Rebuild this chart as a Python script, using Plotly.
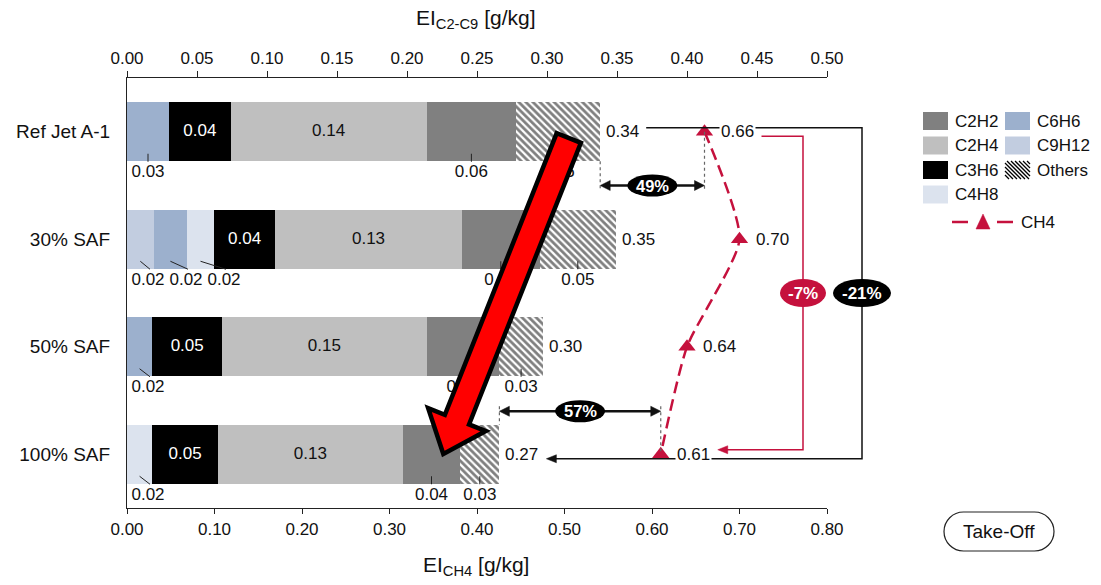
import plotly.graph_objects as go

# ---------------- data ----------------
categories = ["Ref Jet A-1", "30% SAF", "50% SAF", "100% SAF"]
C9H12 = [0.000, 0.019, 0.000, 0.000]
C6H6 = [0.030, 0.024, 0.018, 0.000]
C4H8 = [0.000, 0.019, 0.000, 0.018]
C3H6 = [0.044, 0.044, 0.050, 0.047]
C2H4 = [0.140, 0.133, 0.146, 0.132]
C2H2 = [0.064, 0.056, 0.052, 0.041]
Others = [0.060, 0.054, 0.031, 0.028]
CH4 = [0.66, 0.70, 0.64, 0.61]
gap_labels = ["49%", "57%"]          # C2-C9 vs CH4 for Ref and 100% SAF
change_labels = ["-7%", "-21%"]      # CH4 change, C2-C9 change (Ref -> 100% SAF)
top_ticks = [0.00, 0.05, 0.10, 0.15, 0.20, 0.25, 0.30, 0.35, 0.40, 0.45, 0.50]
bottom_ticks = [0.00, 0.10, 0.20, 0.30, 0.40, 0.50, 0.60, 0.70, 0.80]

# ---------------- styling ----------------
FONT = "Arial, Liberation Sans, sans-serif"
TXT = "#111111"
CRIMSON = "#c5113d"
COL = {"C9H12": "#c2cde0", "C6H6": "#9cb0cd", "C4H8": "#dce3ee", "C3H6": "#000000",
       "C2H4": "#bfbfbf", "C2H2": "#808080", "Others": "#ffffff"}
stack = [("C9H12", C9H12), ("C6H6", C6H6), ("C4H8", C4H8), ("C3H6", C3H6),
         ("C2H4", C2H4), ("C2H2", C2H2), ("Others", Others)]

W, H = 1101, 585
XL, XR, YT, YB = 127, 827, 78, 508
PW, PH = XR - XL, YB - YT
TOPMAX, BOTMAX = top_ticks[-1], bottom_ticks[-1]
ypos = list(range(len(categories)))
BARW = 0.55


def sx2(v):  # top-axis value -> pixel
    return XL + v / TOPMAX * PW


def sx1(v):  # bottom-axis value -> pixel
    return XL + v / BOTMAX * PW


def sy(c):  # category position -> pixel
    return YT + (c + 0.5) * PH / len(categories)


def d2(px):  # pixel -> top-axis value
    return (px - XL) / PW * TOPMAX


def dy(py):  # pixel -> category coordinate
    return (py - YT) / (PH / len(categories)) - 0.5


def pp(x, y):  # pixel -> paper
    return (x - XL) / PW, (YB - y) / PH


def path_str(pts, close=True):
    s = ""
    for i, (x, y) in enumerate(pts):
        px, py = pp(x, y)
        s += ("M" if i == 0 else "L") + f"{px:.5f},{py:.5f} "
    return s + ("Z" if close else "")


totals = [sum(s[1][i] for s in stack) for i in range(len(categories))]

fig = go.Figure()

# stacked bars
for name, vals in stack:
    marker = dict(color=COL[name], line=dict(width=0))
    if name == "Others":
        marker["pattern"] = dict(shape="\\", fgcolor="#000000", bgcolor="#ffffff", size=5, solidity=0.55)
    fig.add_trace(go.Bar(y=ypos, x=vals, orientation="h", xaxis="x2", yaxis="y", width=BARW,
                         marker=marker, name=name, showlegend=False, hoverinfo="skip"))

# labels
in_x, in_y, in_t, in_c = [], [], [], []
out_x, out_y, out_t = [], [], []
lead_x, lead_y = [], []
for i in range(len(categories)):
    left = 0.0
    seg = {}
    for name, vals in stack:
        seg[name] = (left, vals[i])
        left += vals[i]
    for name, tcol in (("C3H6", "#ffffff"), ("C2H4", TXT)):
        l, v = seg[name]
        in_x.append(l + v / 2); in_y.append(i); in_t.append(f"{v:.2f}"); in_c.append(tcol)
    # small labels below the bar
    prev = None
    for name in ("C9H12", "C6H6", "C4H8"):
        l, v = seg[name]
        if v <= 0:
            continue
        cpx = sx2(l + v / 2)
        lx = max(cpx, XL + 21) if prev is None else max(cpx, prev + 38)
        prev = lx
        out_x.append(d2(lx)); out_y.append(dy(sy(i) + 41)); out_t.append(f"{v:.2f}")
        lead_x += [l + v / 2, d2(lx + 2 if lx > cpx else lx), None]
        lead_y += [dy(sy(i) + 22), dy(sy(i) + 30), None]
    for name in ("C2H2", "Others"):
        l, v = seg[name]
        c = l + v / 2
        out_x.append(c); out_y.append(dy(sy(i) + 41)); out_t.append(f"{v:.2f}")
        lead_x += [c, c, None]
        lead_y += [dy(sy(i) + 22), dy(sy(i) + 30), None]

fig.add_trace(go.Scatter(x=lead_x, y=lead_y, xaxis="x2", yaxis="y", mode="lines",
                         line=dict(color="#222222", width=1), showlegend=False, hoverinfo="skip",
                         cliponaxis=False))
fig.add_trace(go.Scatter(x=in_x, y=in_y, xaxis="x2", yaxis="y", mode="text", text=in_t,
                         textfont=dict(family=FONT, size=17, color=in_c), showlegend=False,
                         hoverinfo="skip", cliponaxis=False))
fig.add_trace(go.Scatter(x=out_x, y=out_y, xaxis="x2", yaxis="y", mode="text", text=out_t,
                         textfont=dict(family=FONT, size=17, color=TXT), showlegend=False,
                         hoverinfo="skip", cliponaxis=False))

# CH4 line
fig.add_trace(go.Scatter(x=CH4, y=ypos, xaxis="x", yaxis="y", mode="lines+markers",
                         line=dict(color=CRIMSON, width=2.5, dash="12px,6px", shape="spline", smoothing=0.6),
                         marker=dict(symbol="triangle-up", size=15, color=CRIMSON, line=dict(width=0)),
                         showlegend=False, hoverinfo="skip", cliponaxis=False))

shapes = []
annotations = []


def line_shape(pts, color, width, dash="solid", close=False, fill=None):
    shapes.append(dict(type="path", xref="paper", yref="paper", path=path_str(pts, close),
                       line=dict(color=color, width=width, dash=dash),
                       fillcolor=fill if fill else "rgba(0,0,0,0)", layer="above"))


def head(x, y, direction, color, L=10, hw=4.5):
    s = 1 if direction == "left" else -1
    line_shape([(x, y), (x + s * L, y - hw), (x + s * L, y + hw)], color, 0.5, close=True, fill=color)


def text_at(xpx, ypx, text, size, color=TXT, xanchor="center"):
    px, py = pp(xpx, ypx)
    annotations.append(dict(x=px, y=py, xref="paper", yref="paper", text=text, showarrow=False,
                            xanchor=xanchor, yanchor="middle",
                            font=dict(family=FONT, size=size, color=color)))


def ellipse(cx, cy, w, h, color, text, size):
    x0, y0 = pp(cx - w / 2, cy + h / 2)
    x1, y1 = pp(cx + w / 2, cy - h / 2)
    shapes.append(dict(type="circle", xref="paper", yref="paper", x0=x0, y0=y0, x1=x1, y1=y1,
                       fillcolor=color, line=dict(width=0), layer="above"))
    text_at(cx, cy, f"<b>{text}</b>", size, "#ffffff")


# black bracket (C2-C9 change)
bx0 = sx2(totals[0]) + 46
by0 = sy(0) - 4
bxr = XR + 35
by1 = sy(3) + 4.5
btip = sx2(totals[-1]) + 47
line_shape([(bx0, by0), (bxr, by0), (bxr, by1), (btip + 8, by1)], "#111111", 1.5)
head(btip, by1, "left", "#111111", L=10, hw=4)
ellipse(bxr, sy(1.5), 58, 28, "#000000", change_labels[1], 17)

# crimson bracket (CH4 change)
cx0 = sx1(CH4[0]) + 57
cy0 = sy(0) + 4.5
cxr = XR - 24
cy1 = sy(3) - 4.5
ctip = sx1(CH4[-1]) + 57
line_shape([(cx0, cy0), (cxr, cy0), (cxr, cy1), (ctip + 8, cy1)], CRIMSON, 1.5)
head(ctip, cy1, "left", CRIMSON, L=10, hw=4)
ellipse(cxr, sy(1.5), 46, 28, CRIMSON, change_labels[0], 17)

# gap arrows
for k, (idx, yc) in enumerate(((0, 0.5), (len(categories) - 1, 2.6))):
    xa, xb = sx2(totals[idx]), sx1(CH4[idx])
    ya = sy(yc)
    line_shape([(xa + 8, ya), (xb - 8, ya)], "#111111", 2.5)
    head(xa, ya, "left", "#111111", L=10, hw=5)
    head(xb, ya, "right", "#111111", L=10, hw=5)
    bar_edge = sy(idx) + (BARW / 2) * PH / len(categories) * (1 if idx == 0 else -1)
    if idx == 0:
        line_shape([(xa, bar_edge), (xa, ya + 5)], "#666666", 1.2, dash="dot")
        line_shape([(xb, sy(idx)), (xb, ya + 5)], "#666666", 1.2, dash="dot")
    else:
        line_shape([(xa, ya - 5), (xa, bar_edge)], "#666666", 1.2, dash="dot")
        line_shape([(xb, ya - 5), (xb, sy(idx))], "#666666", 1.2, dash="dot")
    ellipse((xa + xb) / 2, ya, 50, 22, "#000000", gap_labels[k], 16.5)

# big red arrow
tail = (568.8, 138.0)
tip = (443.3, 454.0)
dxv, dyv = tip[0] - tail[0], tip[1] - tail[1]
ln = (dxv ** 2 + dyv ** 2) ** 0.5
ux, uy = dxv / ln, dyv / ln
nx, ny = -uy, ux
sw, hw_, hl = 13.0, 31.0, 37.0
bx, by = tip[0] - ux * hl, tip[1] - uy * hl
arrow_pts = [
    (tail[0] + nx * sw, tail[1] + ny * sw),
    (bx + nx * sw, by + ny * sw),
    (bx + nx * hw_, by + ny * hw_),
    tip,
    (bx - nx * hw_, by - ny * hw_),
    (bx - nx * sw, by - ny * sw),
    (tail[0] - nx * sw, tail[1] - ny * sw),
]
line_shape(arrow_pts, "#000000", 4.5, close=True, fill="#ff0000")

# value annotations (totals and CH4)
for i in range(len(categories)):
    annotations.append(dict(x=totals[i], y=i, xref="x2", yref="y", text=f"{totals[i]:.2f}",
                            xanchor="left", yanchor="middle", xshift=4, showarrow=False,
                            bgcolor="#ffffff", font=dict(family=FONT, size=17, color=TXT)))
    annotations.append(dict(x=CH4[i], y=i, xref="x", yref="y", text=f"{CH4[i]:.2f}",
                            xanchor="left", yanchor="middle", xshift=14, showarrow=False,
                            bgcolor="#ffffff", font=dict(family=FONT, size=17, color=TXT)))

# axis titles
text_at(476, 19, "EI<sub>C2-C9</sub> [g/kg]", 21)
text_at(476, 566, "EI<sub>CH4</sub> [g/kg]", 21)

# manual legend
leg_cols = [(923, ["C2H2", "C2H4", "C3H6", "C4H8"]), (1005, ["C6H6", "C9H12", "Others"])]
row_y = [121, 145.5, 170, 194.5]
for x0, names in leg_cols:
    for r, name in enumerate(names):
        yc = row_y[r]
        xa0, ya0 = pp(x0, yc - 9)
        xa1, ya1 = pp(x0 + 25, yc + 9)
        shapes.append(dict(type="rect", xref="paper", yref="paper", x0=xa0, y0=ya0, x1=xa1, y1=ya1,
                           fillcolor=COL[name], line=dict(width=0), layer="above"))
        if name == "Others":
            top, bot, lft, rgt = yc - 9, yc + 9, x0, x0 + 25
            c = lft - (bot - top)
            while c < rgt:
                xs = max(lft, c)
                xe = min(rgt, c + (bot - top))
                if xe > xs:
                    line_shape([(xs, top + (xs - c)), (xe, top + (xe - c))], "#000000", 1.3)
                c += 4
        text_at(x0 + 30, yc, name, 17, xanchor="left")
# CH4 legend entry
cy = 222
line_shape([(952, cy), (968, cy)], CRIMSON, 2.5)
line_shape([(997, cy), (1013, cy)], CRIMSON, 2.5)
line_shape([(976, cy + 7), (990, cy + 7), (983, cy - 8)], CRIMSON, 0.5, close=True, fill=CRIMSON)
text_at(1019, cy, "CH4", 17, xanchor="left")

# Take-Off box
bx0_, by0_, bx1_, by1_ = 944, 512, 1054, 551
r = (by1_ - by0_) / 2
k = 0.5523 * r


def P(x, y):
    a, b = pp(x, y)
    return f"{a:.5f},{b:.5f}"


s = "M" + P(bx0_ + r, by0_) + " L" + P(bx1_ - r, by0_)
s += " C" + P(bx1_ - r + k, by0_) + " " + P(bx1_, by0_ + r - k) + " " + P(bx1_, by0_ + r)
s += " C" + P(bx1_, by0_ + r + k) + " " + P(bx1_ - r + k, by1_) + " " + P(bx1_ - r, by1_)
s += " L" + P(bx0_ + r, by1_)
s += " C" + P(bx0_ + r - k, by1_) + " " + P(bx0_, by1_ - r + k) + " " + P(bx0_, by1_ - r)
s += " C" + P(bx0_, by0_ + r - k) + " " + P(bx0_ + r - k, by0_) + " " + P(bx0_ + r, by0_) + " Z"
shapes.append(dict(type="path", xref="paper", yref="paper", path=s, line=dict(color="#222222", width=1.2),
                   fillcolor="#ffffff", layer="above"))
text_at((bx0_ + bx1_) / 2, (by0_ + by1_) / 2, "Take-Off", 19)

fig.update_layout(
    width=W, height=H,
    margin=dict(l=XL, r=W - XR, t=YT, b=H - YB, pad=0),
    paper_bgcolor="#ffffff", plot_bgcolor="#ffffff",
    barmode="stack", bargap=0.45,
    showlegend=False,
    hovermode=False,
    font=dict(family=FONT, size=17, color=TXT),
    xaxis=dict(range=[0, BOTMAX], tickvals=bottom_ticks, tickformat=".2f", showline=True,
               linecolor="#222222", linewidth=1.2, ticks="outside", ticklen=5, tickcolor="#222222",
               showgrid=False, zeroline=False, anchor="y", side="bottom",
               tickfont=dict(family=FONT, size=17, color=TXT)),
    xaxis2=dict(range=[0, TOPMAX], tickvals=top_ticks, tickformat=".2f", showline=True,
                linecolor="#222222", linewidth=1.2, ticks="outside", ticklen=6, tickcolor="#222222",
                showgrid=False, zeroline=False, overlaying="x", side="top", anchor="y",
                tickfont=dict(family=FONT, size=17, color=TXT)),
    yaxis=dict(range=[len(categories) - 0.5, -0.5], tickvals=ypos, ticktext=categories,
               showline=True, linecolor="#222222", linewidth=1.2, ticks="", showgrid=False,
               zeroline=False, ticklabelstandoff=12, tickfont=dict(family=FONT, size=19, color=TXT)),
    shapes=shapes,
    annotations=annotations,
)

fig.write_html("out.html", config={"displayModeBar": False},
               post_script="document.body.style.margin='0';document.body.style.overflow='hidden';")
